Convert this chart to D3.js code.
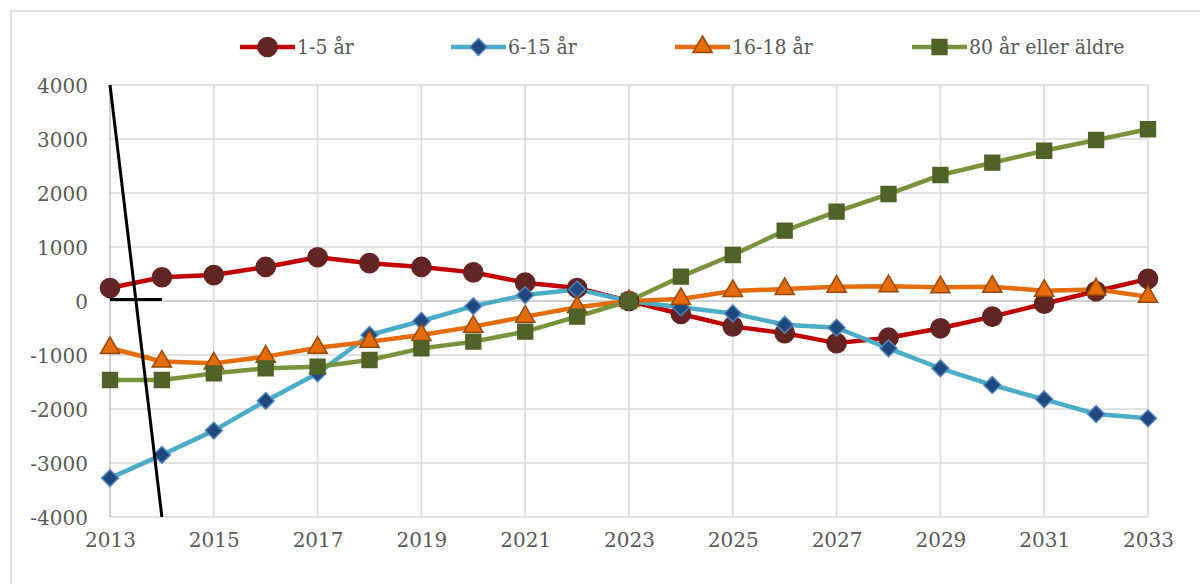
<!DOCTYPE html>
<html>
<head>
<meta charset="utf-8">
<script src="https://cdn.jsdelivr.net/npm/d3@7"></script>
<style>
  body { margin: 0; background: #fff; }
  text { font-family: "DejaVu Serif", serif; fill: #595959; }
</style>
</head>
<body>
<script>
const width = 1200;
const height = 584;

// data
const years = d3.range(2013, 2034);
const kids = [240, 440, 480, 630, 810, 700, 630, 530, 340, 240, 0, -240, -470, -595, -780, -680, -505, -290, -50, 180, 410];
const school = [-3280, -2850, -2400, -1850, -1340, -630, -370, -95, 110, 215, 0, -117, -230, -440, -495, -877, -1247, -1556, -1821, -2093, -2173];
const gymn = [-870, -1120, -1155, -1030, -865, -755, -630, -475, -290, -117, 0, 37, 185, 222, 265, 275, 255, 265, 190, 215, 80];
const old = [-1463, -1463, -1340, -1247, -1216, -1093, -877, -753, -568, -290, 0, 450, 852, 1302, 1654, 1981, 2333, 2561, 2783, 2981, 3180];
const names = ["1-5 år", "6-15 år", "16-18 år", "80 år eller äldre"];
const yTicks = [-4000, -3000, -2000, -1000, 0, 1000, 2000, 3000, 4000];
const xTicks = [2013, 2015, 2017, 2019, 2021, 2023, 2025, 2027, 2029, 2031, 2033];

const series = [
  {name: names[0], values: kids, line: "#C00000", fill: "#632523", stroke: "#632523", symbol: d3.symbolCircle, size: 290},
  {name: names[1], values: school, line: "#4BACC6", fill: "#1F497D", stroke: "#4F81BD", symbol: d3.symbolDiamond2, size: 180},
  {name: names[2], values: gymn, line: "#E46C0A", fill: "#E46C0A", stroke: "#984807", symbol: d3.symbolTriangle, size: 160},
  {name: names[3], values: old, line: "#77933C", fill: "#4F6228", stroke: "#4F6228", symbol: d3.symbolSquare, size: 220}
];

const svg = d3.select("body").append("svg").attr("width", width).attr("height", height);

// chart frame
svg.append("rect")
  .attr("x", 11).attr("y", 11)
  .attr("width", width + 20).attr("height", height + 20)
  .style("fill", "none").style("stroke", "#d9d9d9").style("stroke-width", 1.5);

const x = d3.scaleLinear().domain([2013, 2033]).range([110, 1148]);
const y = d3.scaleLinear().domain([-4000, 4000]).range([517, 85]);

// gridlines
svg.selectAll("line.hgrid")
  .data(yTicks)
  .enter()
  .append("line")
  .attr("class", "hgrid")
  .attr("x1", x(2013)).attr("x2", x(2033))
  .attr("y1", d => y(d)).attr("y2", d => y(d))
  .style("stroke", d => d === 0 ? "#bfbfbf" : "#d9d9d9")
  .style("stroke-width", 1.5);

svg.selectAll("line.vgrid")
  .data(xTicks)
  .enter()
  .append("line")
  .attr("class", "vgrid")
  .attr("x1", d => x(d)).attr("x2", d => x(d))
  .attr("y1", y(4000)).attr("y2", y(-4000))
  .style("stroke", d => d === 2013 ? "#bfbfbf" : "#d9d9d9")
  .style("stroke-width", 1.5);

// axes labels (plain hyphen for minus, like the original)
const yAxis = svg.append("g")
  .attr("transform", `translate(${x(2013) - 22},0)`)
  .call(d3.axisLeft(y).tickValues(yTicks).tickSize(0).tickPadding(0).tickFormat(d => String(d)));
yAxis.select(".domain").remove();
yAxis.selectAll("text").style("font-size", "20px").attr("dy", "0.35em");

const xAxis = svg.append("g")
  .attr("transform", `translate(0,${y(-4000) + 14})`)
  .call(d3.axisBottom(x).tickValues(xTicks).tickSize(0).tickPadding(0).tickFormat(d => String(d)));
xAxis.select(".domain").remove();
xAxis.selectAll("text").style("font-size", "20px").attr("dy", "0.8em");

// the lines
const line = d3.line()
  .x((d, i) => x(years[i]))
  .y(d => y(d));

svg.selectAll("path.series")
  .data(series)
  .enter()
  .append("path")
  .attr("class", "series")
  .attr("d", d => line(d.values))
  .style("fill", "none")
  .style("stroke", d => d.line)
  .style("stroke-width", 4.5)
  .style("stroke-linejoin", "round");

// markers
series.forEach(s => {
  svg.selectAll(null)
    .data(s.values)
    .enter()
    .append("path")
    .attr("d", d3.symbol().type(s.symbol).size(s.size))
    .attr("transform", (d, i) => `translate(${x(years[i])},${y(d)})`)
    .style("fill", s.fill)
    .style("stroke", s.stroke)
    .style("stroke-width", 1.5);
});

// hand drawn black strokes
svg.append("line")
  .attr("x1", x(2013)).attr("y1", y(4000))
  .attr("x2", x(2014)).attr("y2", y(-4000))
  .style("stroke", "black").style("stroke-width", 3);
svg.append("line")
  .attr("x1", x(2013)).attr("y1", y(30))
  .attr("x2", x(2014)).attr("y2", y(30))
  .style("stroke", "black").style("stroke-width", 3);

// legend
const legendX = [240, 451, 675, 912];
const legend = svg.selectAll("g.legend")
  .data(series)
  .enter()
  .append("g")
  .attr("class", "legend")
  .attr("transform", (d, i) => `translate(${legendX[i]},47)`);

legend.append("line")
  .attr("x1", 0).attr("x2", 55)
  .style("stroke", d => d.line)
  .style("stroke-width", 4.5);

legend.append("path")
  .attr("d", d => d3.symbol().type(d.symbol).size(d.size)())
  .attr("transform", "translate(27.5,0)")
  .style("fill", d => d.fill)
  .style("stroke", d => d.stroke)
  .style("stroke-width", 1.5);

legend.append("text")
  .attr("x", 57)
  .attr("dy", "0.35em")
  .style("font-size", "21px")
  .style("font-stretch", "condensed")
  .style("font-family", "'DejaVu Serif Condensed', 'DejaVu Serif', serif")
  .text(d => d.name);
</script>
</body>
</html>
